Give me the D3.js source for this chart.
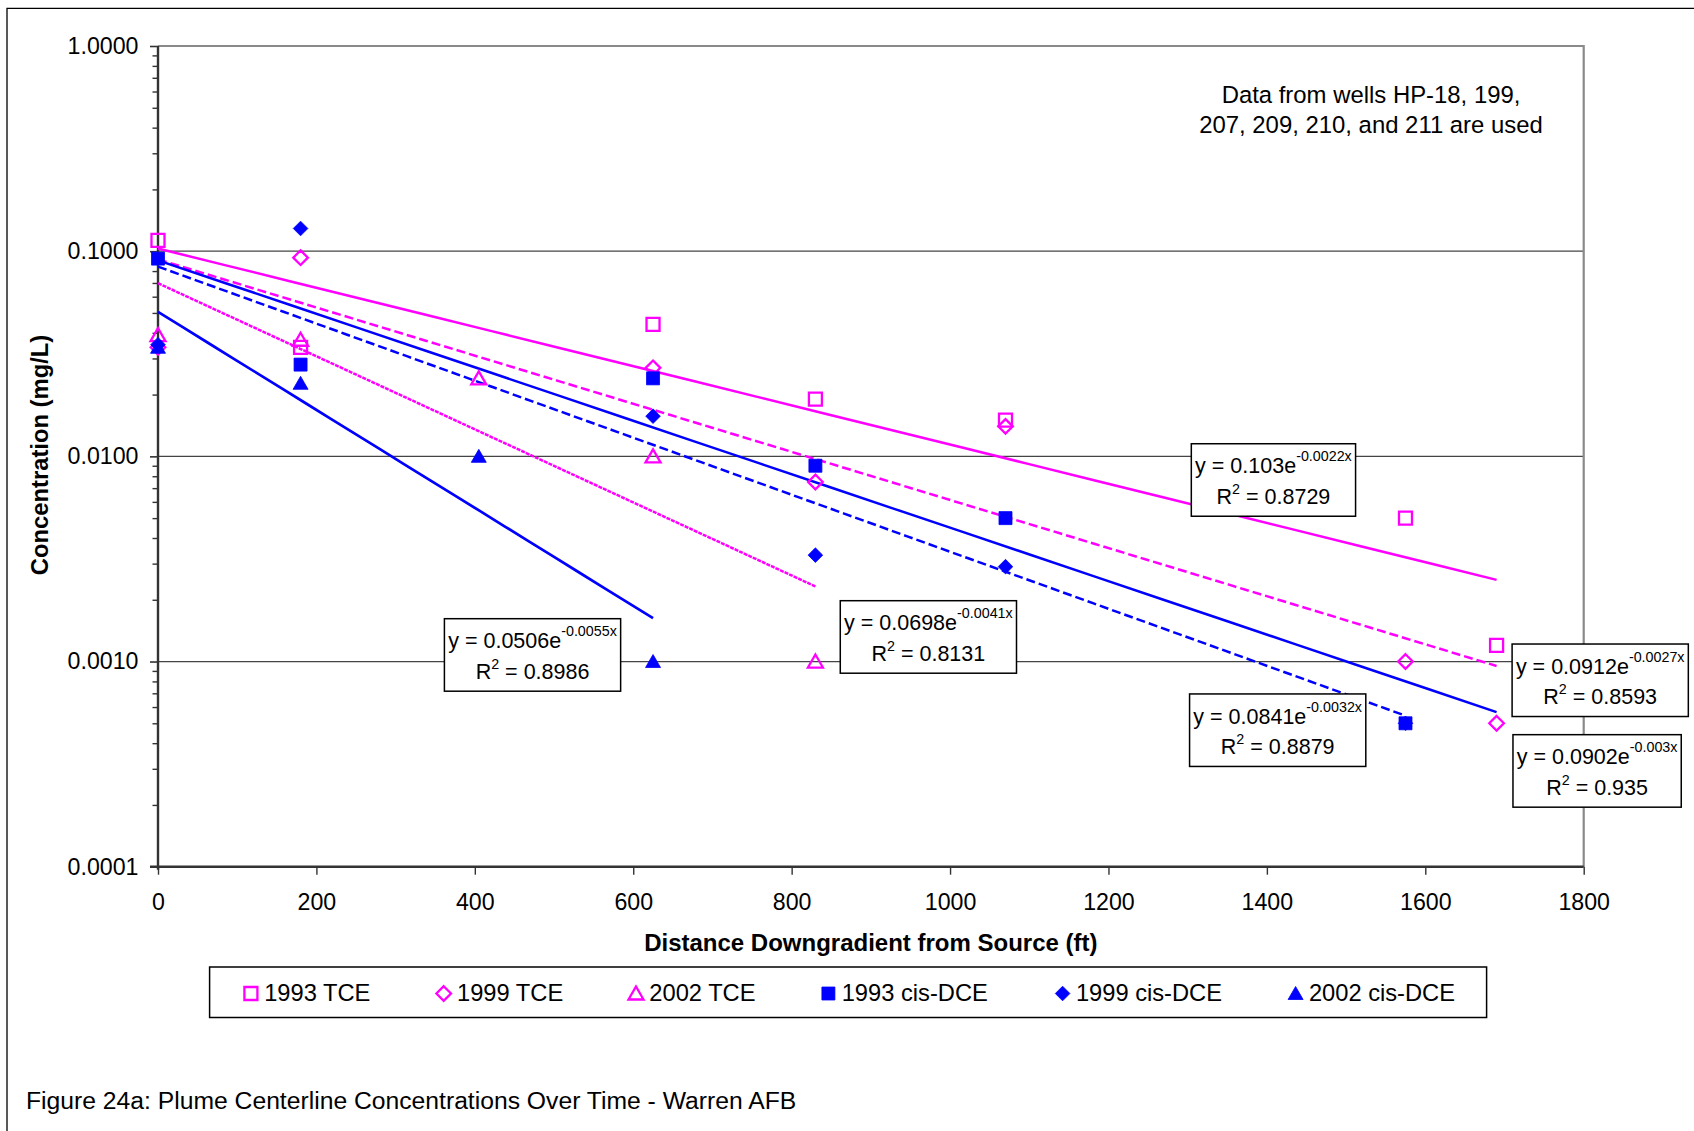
<!DOCTYPE html>
<html><head><meta charset="utf-8">
<script src="https://cdn.jsdelivr.net/npm/d3@7"></script>
<style>
body{margin:0;background:#fff;}
svg{display:block;font-family:"Liberation Sans",Arial,Helvetica,sans-serif;}
</style></head><body>
<svg id="c" width="1694" height="1131"></svg>
<script>
// ---------------- DATA ----------------
const seriesNames = ["1993 TCE","1999 TCE","2002 TCE","1993 cis-DCE","1999 cis-DCE","2002 cis-DCE"];
const tce1993X = [0,180,625,830,1070,1575,1690];
const tce1993Y = [0.113,0.034,0.044,0.019,0.015,0.005,0.0012];
const tce1999X = [0,180,625,830,1070,1575,1690];
const tce1999Y = [0.034,0.093,0.027,0.0075,0.014,0.001,0.0005];
const tce2002X = [0,180,405,625,830];
const tce2002Y = [0.039,0.037,0.024,0.010,0.001];
const dce1993X = [0,180,625,830,1070,1575];
const dce1993Y = [0.092,0.028,0.024,0.009,0.005,0.0005];
const dce1999X = [0,180,625,830,1070,1575];
const dce1999Y = [0.035,0.129,0.0157,0.0033,0.0029,0.0005];
const dce2002X = [0,180,405,625];
const dce2002Y = [0.034,0.0227,0.010,0.001];
// exponential trendlines y = a*e^(b*x)
const trendA = [0.103,0.0912,0.0698,0.0902,0.0841,0.0506];
const trendB = [-0.0022,-0.0027,-0.0041,-0.003,-0.0032,-0.0055];
const trendR2 = ["0.8729","0.8593","0.8131","0.935","0.8879","0.8986"];
const trendXEnd = [1690,1690,830,1690,1575,625];
// label anchors (top-left corner, in data units)
const labelAtX = [1304.6,1709.6,861.4,1710.7,1302.4,361.6];
const labelAtY = [0.01152,0.001217,0.001979,0.00044,0.000695,0.001617];
const xTickValues = [0,200,400,600,800,1000,1200,1400,1600,1800];
const yTickValues = [0.0001,0.001,0.01,0.1,1];
const noteLines = ["Data from wells HP-18, 199,","207, 209, 210, and 211 are used"];
const xTitle = "Distance Downgradient from Source (ft)";
const yTitle = "Concentration (mg/L)";
const caption = "Figure 24a: Plume Centerline Concentrations Over Time - Warren AFB";

// ---------------- STYLE / LAYOUT ----------------
const MAG = "#FF00FF", BLU = "#0000FF";
const seriesX = [tce1993X,tce1999X,tce2002X,dce1993X,dce1999X,dce2002X];
const seriesY = [tce1993Y,tce1999Y,tce2002Y,dce1993Y,dce1999Y,dce2002Y];
const sColor = [MAG,MAG,MAG,BLU,BLU,BLU];
const sShape = ["square","diamond","triangle","square","diamond","triangle"];
const sFilled = [false,false,false,true,true,true];
const tDash = [null,"9,4","4,1",null,"9,4",null];
const tWidth = [2.5,2.5,2.5,2.5,2.5,2.7];
const legendMarkerPx = [250.9,443.7,636,828.4,1062.6,1295.6];

const svg = d3.select("#c");
const L=158, R=1583.7, T=46, B=866.7;
const x = d3.scaleLinear().domain([0,1800]).range([L,R]);
const y = d3.scaleLog().domain([0.0001,1]).range([B,T]);

// outer frame
svg.append("path").attr("d",`M7,1140 L7,8.3 L1700,8.3`).attr("fill","none").attr("stroke","#000").attr("stroke-width",1.3);

// gridlines
svg.append("g").selectAll("line").data([0.001,0.01,0.1]).join("line")
  .attr("x1",L).attr("x2",R).attr("y1",d=>y(d)).attr("y2",d=>y(d))
  .attr("stroke","#444").attr("stroke-width",1.2);
// top & right border
svg.append("path").attr("d",`M${L},${T} L${R},${T} L${R},${B}`).attr("fill","none").attr("stroke","#8a8a8a").attr("stroke-width",2.2);

// y axis minor ticks
const minor = [];
[0.0001,0.001,0.01,0.1].forEach(d=>{for(let k=2;k<=9;k++) minor.push(d*k);});
const yMinor = svg.append("g").attr("transform",`translate(${L},0)`)
  .call(d3.axisLeft(y).tickValues(minor).tickSize(5.5).tickFormat(""));
yMinor.select(".domain").remove();
yMinor.selectAll("line").attr("stroke","#333").attr("stroke-width",1.4);
// y axis major
const yAx = svg.append("g").attr("transform",`translate(${L},0)`)
  .call(d3.axisLeft(y).tickValues(yTickValues).tickSize(8).tickPadding(11.5).tickFormat(d3.format(".4f")));
yAx.select(".domain").attr("stroke","#333").attr("stroke-width",2.4).attr("d",`M0,${T}V${B+3}`);
yAx.selectAll(".tick line").attr("stroke","#333").attr("stroke-width",1.6);
yAx.selectAll("text").attr("font-size",23.2).attr("fill","#000").attr("font-family","Liberation Sans, Arial, sans-serif");

// x axis
const xAx = svg.append("g").attr("transform",`translate(0,${B})`)
  .call(d3.axisBottom(x).tickValues(xTickValues).tickSize(8).tickPadding(18.5).tickFormat(d3.format("d")));
xAx.select(".domain").attr("stroke","#333").attr("stroke-width",2.4).attr("d",`M${L-8},0H${R}`);
xAx.selectAll(".tick line").attr("stroke","#333").attr("stroke-width",1.4);
xAx.selectAll("text").attr("font-size",23.2).attr("fill","#000").attr("font-family","Liberation Sans, Arial, sans-serif");

// axis titles
svg.append("text").attr("x",(L+R)/2).attr("y",950.7).attr("text-anchor","middle")
  .attr("font-size",24).attr("font-weight","bold").text(xTitle);
svg.append("text").attr("transform",`translate(47.5,455) rotate(-90)`).attr("text-anchor","middle")
  .attr("font-size",23.8).attr("font-weight","bold").text(yTitle);

// trendlines
const tl = d3.line().x(d=>x(d[0])).y(d=>y(d[1]));
trendA.forEach((a,i)=>{
  const b = trendB[i], end = trendXEnd[i];
  const pts = d3.range(0,21).map(k=>{const xv=end*k/20; return [xv, a*Math.exp(b*xv)];});
  svg.append("path").attr("d",tl(pts)).attr("fill","none").attr("stroke",sColor[i])
    .attr("stroke-width",tWidth[i]).attr("stroke-dasharray",tDash[i]);
});

// marker shapes
function markerPath(shape){
  if(shape==="square") return "M-6.5,-6.5H6.5V6.5H-6.5Z";
  if(shape==="diamond") return "M0,-7.3L7.3,0L0,7.3L-7.3,0Z";
  return "M0,-7L7.5,6L-7.5,6Z";
}
function drawMarker(g,i){
  g.append("path").attr("d",markerPath(sShape[i]))
   .attr("fill",sFilled[i]?sColor[i]:"none")
   .attr("stroke",sColor[i]).attr("stroke-width",sFilled[i]?0.8:2.3)
   .attr("stroke-linejoin","miter");
}
// markers
seriesX.forEach((xs,i)=>{
  xs.forEach((xv,j)=>{
    const g = svg.append("g").attr("transform",`translate(${x(xv)},${y(seriesY[i][j])})`);
    drawMarker(g,i);
  });
});

// equation labels
trendA.forEach((a,i)=>{
  const bx = x(labelAtX[i]), by = y(labelAtY[i]);
  const g = svg.append("g");
  const rect = g.append("rect").attr("x",bx).attr("y",by).attr("height",72.5)
    .attr("fill","#fff").attr("stroke","#000").attr("stroke-width",1.5);
  const t1 = g.append("text").attr("x",bx+3.8).attr("y",by+29.6).attr("font-size",21.5);
  t1.append("tspan").text("y = "+a+"e");
  t1.append("tspan").attr("dy",-12).attr("font-size",14.3).text(trendB[i]+"x");
  const w = t1.node().getComputedTextLength();
  rect.attr("width",w+7.6);
  const t2 = g.append("text").attr("x",bx+(w+7.6)/2).attr("y",by+60.3).attr("font-size",21.5).attr("text-anchor","middle");
  t2.append("tspan").text("R");
  t2.append("tspan").attr("dy",-10).attr("font-size",14.3).text("2");
  t2.append("tspan").attr("dy",10).text(" = "+trendR2[i]);
});

// note
svg.append("g").selectAll("text").data(noteLines).join("text")
  .attr("x",1371).attr("y",(d,i)=>103.3+i*30).attr("text-anchor","middle")
  .attr("font-size",23.9).text(d=>d);

// legend
svg.append("rect").attr("x",209.6).attr("y",967).attr("width",1277).attr("height",50.5)
  .attr("fill","#fff").attr("stroke","#000").attr("stroke-width",1.5);
seriesNames.forEach((nm,i)=>{
  const lx = legendMarkerPx[i];
  const g = svg.append("g").attr("transform",`translate(${lx},993.5)`);
  drawMarker(g,i);
  svg.append("text").attr("x",lx+13.3).attr("y",1000.7).attr("font-size",23.7).text(nm);
});

// caption
svg.append("text").attr("x",26).attr("y",1109.3).attr("font-size",24.7).text(caption);
</script>
</body></html>
